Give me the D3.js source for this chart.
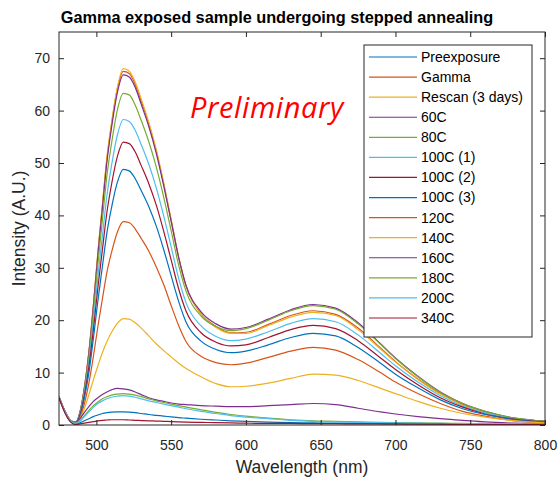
<!DOCTYPE html>
<html>
<head>
<meta charset="utf-8">
<script src="https://cdn.jsdelivr.net/npm/d3@7/dist/d3.min.js"></script>
<style>
  html, body { margin: 0; padding: 0; background: #fff; }
  svg { display: block; }
</style>
</head>
<body>
<svg id="chart" width="560" height="478"></svg>
<script>
// Emission spectra of a gamma-exposed sample, rescanned after each annealing step.
const wavelengths = [475, 479, 483, 486, 489, 492, 495, 498, 501, 504, 507, 510, 514, 518, 522, 526, 530, 535, 540, 545,
                     550, 555, 560, 570, 580, 590, 600, 615, 630, 645, 660, 675, 690, 700, 715, 730, 745, 760, 780, 800];

const seriesNames = ["Preexposure", "Gamma", "Rescan (3 days)", "60C", "80C", "100C (1)", "100C (2)",
                     "100C (3)", "120C", "140C", "160C", "180C", "200C", "340C"];

const preexposure = [5.3, 2.4, 0.6, 0.2, 0.4, 0.8, 1.2, 1.6, 1.9, 2.2, 2.35, 2.45, 2.5, 2.5, 2.45, 2.35, 2.2, 2.0, 1.85, 1.7,
                     1.55, 1.4, 1.3, 1.1, 0.95, 0.8, 0.7, 0.55, 0.45, 0.4, 0.35, 0.3, 0.25, 0.2, 0.2, 0.15, 0.15, 0.1, 0.1, 0.1];
const gamma = [5.3, 2.5, 0.7, 0.4, 2.4, 7.2, 13.9, 22.8, 32.8, 41.7, 50.7, 57.1, 64.1, 67.5, 67.1, 65.0, 61.8, 57.5, 52.3, 46.0,
               39.0, 32.0, 26.5, 21.2, 18.8, 17.6, 17.7, 19.2, 20.9, 21.8, 21.1, 18.5, 14.7, 12.1, 8.8, 6.0, 3.9, 2.5, 1.2, 0.7];
const rescan = [5.4, 2.6, 0.8, 0.5, 2.4, 7.2, 14.0, 23.0, 33.0, 42.0, 51.0, 57.4, 64.4, 68.0, 67.5, 65.4, 62.2, 57.8, 52.6, 46.2,
                39.2, 32.1, 26.5, 21.2, 18.6, 17.5, 17.5, 19.0, 20.6, 21.5, 20.9, 18.2, 14.5, 12.0, 8.7, 5.9, 3.8, 2.4, 1.2, 0.7];
const anneal60 = [5.4, 2.6, 0.8, 0.5, 2.4, 7.1, 13.8, 22.6, 32.4, 41.3, 50.1, 56.5, 63.4, 66.8, 66.4, 64.4, 61.2, 57.0, 51.9, 45.7,
                  38.9, 32.0, 26.6, 21.6, 19.3, 18.3, 18.6, 20.2, 22.0, 23.0, 22.3, 19.5, 15.5, 12.8, 9.3, 6.3, 4.1, 2.6, 1.3, 0.7];
const anneal80 = [5.3, 2.5, 0.7, 0.4, 2.2, 6.7, 13.0, 21.4, 30.7, 39.1, 47.5, 53.5, 60.1, 63.3, 63.0, 61.0, 58.1, 54.1, 49.3, 43.5,
                  37.1, 30.5, 25.5, 20.8, 18.8, 18.0, 18.4, 20.0, 21.8, 22.8, 22.1, 19.3, 15.4, 12.7, 9.2, 6.2, 4.1, 2.6, 1.3, 0.7];
const anneal100a = [5.4, 2.6, 0.8, 0.5, 2.1, 6.2, 12.0, 19.7, 28.3, 36.0, 43.7, 49.3, 55.3, 58.3, 57.9, 56.2, 53.5, 49.8, 45.3, 39.9,
                    34.0, 28.0, 23.3, 18.9, 16.9, 16.1, 16.4, 17.8, 19.4, 20.3, 19.7, 17.2, 13.7, 11.3, 8.2, 5.6, 3.6, 2.3, 1.1, 0.6];
const anneal100b = [5.3, 2.5, 0.7, 0.4, 1.9, 5.7, 11.1, 18.2, 26.2, 33.4, 40.5, 45.7, 51.2, 54.0, 53.7, 52.1, 49.5, 46.1, 42.0, 37.0,
                    31.5, 26.0, 21.7, 17.6, 15.8, 15.1, 15.3, 16.7, 18.2, 19.0, 18.4, 16.1, 12.8, 10.6, 7.7, 5.2, 3.4, 2.1, 1.1, 0.6];
const anneal100c = [5.4, 2.6, 0.8, 0.5, 1.7, 5.2, 10.0, 16.5, 23.7, 30.2, 36.6, 41.3, 46.3, 48.8, 48.5, 47.0, 44.7, 41.7, 38.0, 33.5,
                    28.5, 23.6, 19.6, 16.0, 14.4, 13.8, 14.1, 15.3, 16.7, 17.5, 17.0, 14.8, 11.8, 9.7, 7.1, 4.8, 3.1, 2.0, 1.0, 0.5];
const anneal120 = [5.3, 2.5, 0.7, 0.4, 1.4, 4.1, 8.0, 13.1, 18.8, 24.0, 29.1, 32.8, 36.8, 38.8, 38.6, 37.4, 35.6, 33.2, 30.2, 26.8,
                   22.8, 19.0, 15.9, 13.1, 11.9, 11.5, 11.8, 12.9, 14.1, 14.8, 14.3, 12.5, 10.0, 8.2, 6.0, 4.1, 2.6, 1.7, 0.8, 0.5];
const anneal140 = [5.4, 2.6, 0.8, 0.5, 1.2, 3.2, 5.8, 8.6, 11.3, 13.8, 15.9, 17.6, 19.4, 20.3, 20.2, 19.5, 18.5, 17.0, 15.5, 14.2,
                   13.0, 11.8, 10.8, 9.2, 7.9, 7.3, 7.4, 8.0, 8.9, 9.7, 9.5, 8.5, 7.0, 6.0, 4.5, 3.2, 2.2, 1.5, 0.8, 0.4];
const anneal160 = [5.4, 2.5, 0.7, 0.5, 1.2, 2.4, 3.5, 4.5, 5.2, 5.8, 6.3, 6.7, 7.0, 6.9, 6.7, 6.3, 5.8, 5.2, 4.8, 4.5,
                   4.2, 4.0, 3.9, 3.7, 3.6, 3.5, 3.5, 3.7, 3.9, 4.1, 3.9, 3.2, 2.5, 2.1, 1.6, 1.2, 0.9, 0.6, 0.35, 0.2];
const anneal180 = [5.3, 2.4, 0.6, 0.3, 0.8, 1.8, 2.8, 3.7, 4.4, 5.0, 5.4, 5.7, 5.9, 6.0, 5.9, 5.7, 5.4, 5.0, 4.6, 4.3,
                   4.0, 3.7, 3.4, 2.9, 2.4, 2.0, 1.7, 1.3, 1.0, 0.8, 0.7, 0.6, 0.5, 0.45, 0.4, 0.35, 0.3, 0.25, 0.2, 0.2];
const anneal200 = [5.4, 2.5, 0.6, 0.3, 0.7, 1.6, 2.5, 3.4, 4.1, 4.6, 5.0, 5.3, 5.5, 5.6, 5.5, 5.3, 5.0, 4.6, 4.3, 4.0,
                   3.7, 3.4, 3.1, 2.6, 2.2, 1.8, 1.5, 1.2, 0.9, 0.7, 0.6, 0.5, 0.45, 0.4, 0.35, 0.3, 0.25, 0.2, 0.2, 0.15];
const anneal340 = [5.2, 2.3, 0.5, 0.1, 0.2, 0.35, 0.5, 0.65, 0.8, 0.9, 0.95, 1.0, 1.0, 1.0, 0.95, 0.9, 0.85, 0.8, 0.75, 0.7,
                   0.65, 0.6, 0.55, 0.5, 0.45, 0.4, 0.35, 0.3, 0.3, 0.25, 0.25, 0.2, 0.2, 0.2, 0.15, 0.15, 0.1, 0.1, 0.1, 0.1];

const seriesValues = [preexposure, gamma, rescan, anneal60, anneal80, anneal100a, anneal100b,
                      anneal100c, anneal120, anneal140, anneal160, anneal180, anneal200, anneal340];

// Default 7-colour line order, cycling.
const palette = ["#0072BD", "#D95319", "#EDB120", "#7E2F8E", "#77AC30", "#4DBEEE", "#A2142F"];

const xTicks = [500, 550, 600, 650, 700, 750, 800];
const yTicks = [0, 10, 20, 30, 40, 50, 60, 70];

const titleText = "Gamma exposed sample undergoing stepped annealing";
const xLabel = "Wavelength (nm)";
const yLabel = "Intensity (A.U.)";
const stampText = "Preliminary";

const margin = { left: 59, top: 32, right: 545, bottom: 425 };
const axisColor = "#262626";
const fontFamily = "'Liberation Sans', Arial, Helvetica, sans-serif";

const svg = d3.select("#chart");

const x = d3.scaleLinear().domain([475, 800]).range([margin.left, margin.right]);
const y = d3.scaleLinear().domain([0, 75]).range([margin.bottom, margin.top]);

svg.append("defs").append("clipPath").attr("id", "plot-clip")
  .append("rect")
  .attr("x", margin.left).attr("y", margin.top)
  .attr("width", margin.right - margin.left).attr("height", margin.bottom - margin.top);

// Spectra
const line = d3.line()
  .x((d, i) => x(wavelengths[i]))
  .y(d => y(d))
  .curve(d3.curveMonotoneX);

const lines = svg.append("g").attr("clip-path", "url(#plot-clip)");
seriesValues.forEach((vals, i) => {
  lines.append("path")
    .datum(vals)
    .attr("d", line)
    .attr("fill", "none")
    .attr("stroke", palette[i % palette.length])
    .attr("stroke-width", 1.2)
    .attr("stroke-linejoin", "round");
});

// Axes: ticks point inward on all four sides
function styleAxis(g) {
  g.select(".domain").remove();
  g.selectAll(".tick line").attr("stroke", axisColor).attr("stroke-width", 1);
  g.selectAll(".tick text").attr("fill", axisColor).attr("font-family", fontFamily).attr("font-size", 14);
}

svg.append("g")
  .attr("transform", `translate(0,${margin.bottom})`)
  .call(d3.axisBottom(x).tickValues(xTicks).tickSize(-5).tickPadding(15).tickFormat(d3.format("d")))
  .call(styleAxis);

svg.append("g")
  .attr("transform", `translate(0,${margin.top})`)
  .call(d3.axisTop(x).tickValues(xTicks).tickSize(-5).tickFormat(""))
  .call(styleAxis);

svg.append("g")
  .attr("transform", `translate(${margin.left},0)`)
  .call(d3.axisLeft(y).tickValues(yTicks).tickSize(-5).tickPadding(9).tickFormat(d3.format("d")))
  .call(styleAxis);

svg.append("g")
  .attr("transform", `translate(${margin.right},0)`)
  .call(d3.axisRight(y).tickValues(yTicks).tickSize(-5).tickFormat(""))
  .call(styleAxis);

svg.append("rect")
  .attr("x", margin.left).attr("y", margin.top)
  .attr("width", margin.right - margin.left).attr("height", margin.bottom - margin.top)
  .attr("fill", "none").attr("stroke", axisColor).attr("stroke-width", 1);

// Title and axis labels
svg.append("text")
  .attr("x", 277).attr("y", 23)
  .attr("text-anchor", "middle")
  .attr("font-family", fontFamily).attr("font-weight", "bold").attr("font-size", 16.3)
  .attr("fill", "#000")
  .text(titleText);

svg.append("text")
  .attr("x", (margin.left + margin.right) / 2).attr("y", 473)
  .attr("text-anchor", "middle")
  .attr("font-family", fontFamily).attr("font-size", 17.5)
  .attr("fill", axisColor)
  .text(xLabel);

svg.append("text")
  .attr("transform", `translate(25,${(margin.top + margin.bottom) / 2}) rotate(-90)`)
  .attr("text-anchor", "middle")
  .attr("font-family", fontFamily).attr("font-size", 17.5)
  .attr("fill", axisColor)
  .text(yLabel);

// Annotation
svg.append("text")
  .attr("x", 190).attr("y", 118)
  .attr("font-family", "'Open Sans', Roboto, sans-serif")
  .attr("font-style", "italic")
  .attr("font-size", 29)
  .attr("letter-spacing", 0.6)
  .attr("fill", "#FF0000")
  .text(stampText);

// Legend
const legend = svg.append("g");
const legendBox = { x: 364, y: 45, w: 168, h: 292 };
legend.append("rect")
  .attr("x", legendBox.x).attr("y", legendBox.y)
  .attr("width", legendBox.w).attr("height", legendBox.h)
  .attr("fill", "#fff").attr("stroke", axisColor).attr("stroke-width", 1);

const rowY = d3.scaleLinear().domain([0, seriesNames.length - 1]).range([57, 318]);
seriesNames.forEach((name, i) => {
  const cy = rowY(i);
  legend.append("line")
    .attr("x1", 369).attr("x2", 417)
    .attr("y1", cy).attr("y2", cy)
    .attr("stroke", palette[i % palette.length]).attr("stroke-width", 1.2);
  legend.append("text")
    .attr("x", 421).attr("y", cy)
    .attr("dy", "0.35em")
    .attr("font-family", fontFamily).attr("font-size", 14)
    .attr("fill", "#000")
    .text(name);
});
</script>
</body>
</html>
